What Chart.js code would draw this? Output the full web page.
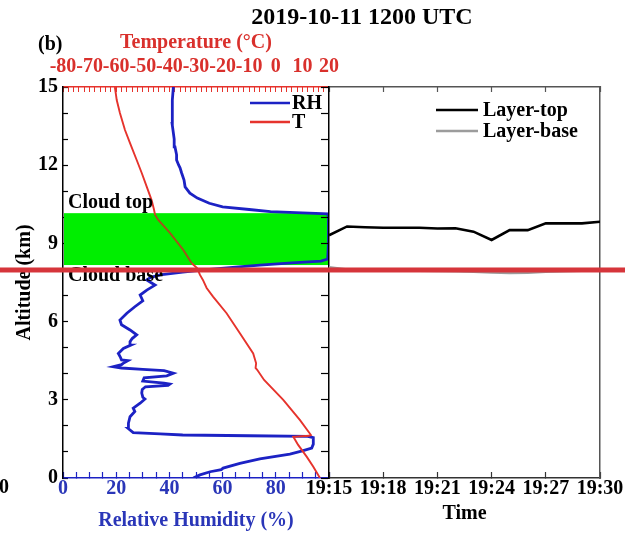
<!DOCTYPE html>
<html>
<head>
<meta charset="utf-8">
<script src="https://cdn.jsdelivr.net/npm/chart.js@4.4.0/dist/chart.umd.min.js"></script>
<style>
  html, body { margin: 0; padding: 0; background: #fff; }
  #wrap { position: relative; width: 629px; height: 536px; }
  #wrap canvas { position: absolute; left: 0; top: 0; }
</style>
</head>
<body>
<div id="wrap">
  <canvas id="profileChart" width="629" height="536"></canvas>
  <canvas id="layerChart" width="629" height="536"></canvas>
</div>
<script>
// sounding profile (altitude in km)
const rhAltitude = [0, 0.12, 0.24, 0.32, 0.38, 0.56, 0.73, 0.92, 1.04, 1.15, 1.3, 1.55, 1.6, 1.62, 1.65, 1.69, 1.74, 1.9, 2.1, 2.35, 2.55, 2.68, 2.87, 3.03, 3.1, 3.26, 3.4, 3.5, 3.55, 3.6, 3.64, 3.72, 3.84, 3.92, 4.02, 4.12, 4.17, 4.22, 4.27, 4.35, 4.4, 4.5, 4.53, 4.65, 4.78, 4.97, 5.1, 5.23, 5.35, 5.49, 5.68, 5.88, 6.06, 6.32, 6.57, 6.8, 7.02, 7.21, 7.4, 7.5, 7.6, 7.7, 7.79, 7.9, 8.0, 8.1, 8.17, 8.25, 8.32, 8.4, 9.0, 10.0, 10.13, 10.17, 10.22, 10.3, 10.4, 10.54, 10.74, 10.93, 11.17, 11.43, 11.7, 11.9, 12.0, 12.2, 12.4, 12.7, 13.0, 13.23, 13.6, 14.0, 14.5, 15.0];
const rhPercent = [49, 51.5, 55.3, 59.5, 60.2, 66.5, 74, 85.3, 90, 93.5, 94.1, 94.1, 92, 70, 45, 36.5, 26.4, 24.5, 24.6, 25.2, 27, 26.4, 29, 30.8, 30, 29.6, 29.8, 31, 39.5, 40.2, 38, 30, 30.5, 39, 41.5, 38, 30, 22, 18.9, 22, 22.6, 24.4, 22, 21.5, 20.8, 22.7, 25.5, 25.2, 26, 27.7, 25.2, 22, 21.4, 24, 27, 30, 29, 31.5, 34.6, 33, 31.5, 33, 36.5, 45, 55, 66, 74, 86, 97, 99.5, 99.8, 99.8, 99.5, 90, 78, 70, 60, 55, 50.5, 47.7, 45.9, 45.5, 44.6, 44, 43.5, 42.7, 42.7, 42.1, 41.8, 41.5, 41, 41, 41.2, 41.5];
const tAltitude = [0, 0.43, 0.82, 1.27, 1.58, 1.62, 1.65, 2.22, 3.0, 3.76, 4.15, 4.22, 4.4, 4.78, 5.55, 6.32, 6.96, 7.29, 7.6, 7.79, 8.05, 8.24, 8.75, 9.4, 9.9, 10.1, 10.3, 10.66, 11.17, 11.7, 12.2, 12.85, 13.35, 14.0, 14.5, 15.0];
const tCelsius = [16.6, 14.1, 11.6, 8.4, 6.6, 12.5, 13.2, 9.1, 2.8, -4.4, -7.0, -7.6, -7.4, -8.5, -13.5, -18.5, -23.6, -26, -27.4, -28.5, -29.6, -31.6, -34.8, -39.8, -44.2, -45.4, -45.8, -46.7, -48.5, -50.4, -52.3, -54.8, -56.7, -58.6, -59.8, -60.5];
const cloudTop = 10.16;
const cloudBase = 8.17;
const redLineAltitude = 7.98;

// retrieved layer over time (minutes after 19:15)
const layerMinutes = [0, 1, 2, 3, 4, 5, 6, 7, 8, 9, 10, 11, 12, 13, 14, 15];
const layerTop = [9.31, 9.65, 9.62, 9.6, 9.6, 9.6, 9.57, 9.58, 9.45, 9.13, 9.51, 9.51, 9.77, 9.77, 9.77, 9.83];
const layerBase = [8.08, 8.0, 7.97, 7.96, 7.95, 7.95, 7.94, 7.93, 7.91, 7.89, 7.87, 7.88, 7.91, 7.93, 7.95, 7.96];
const timeLabels = ['19:15', '19:18', '19:21', '19:24', '19:27', '19:30'];

const FONT = "'Liberation Serif', 'Times New Roman', serif";
const RH_COLOR = '#1c22c4';
const T_COLOR = '#e6332c';
const LABEL_BLUE = '#2a36b8';
const LABEL_RED = '#d9302c';
const GREEN = '#00ee00';
const f = (size) => ({ family: FONT, size: size, weight: 'bold' });

const zip = (xs, ys) => xs.map((x, i) => ({ x: x, y: ys[i] }));
const inCloud = (a) => a > cloudBase && a < cloudTop;

const cloudBand = {
  id: 'cloudBand',
  beforeDatasetsDraw(chart) {
    const { ctx, chartArea: a, scales: { y } } = chart;
    const y1 = y.getPixelForValue(cloudTop);
    const y2 = y.getPixelForValue(cloudBase);
    ctx.save();
    ctx.fillStyle = GREEN;
    ctx.fillRect(a.left + 1, y1, a.right - a.left - 1.5, y2 - y1);
    ctx.restore();
  }
};

const profileText = {
  id: 'profileText',
  afterDatasetsDraw(chart) {
    const { ctx, chartArea: a, scales: { y } } = chart;
    ctx.save();
    ctx.font = 'bold 20px ' + FONT;
    ctx.fillStyle = '#000';
    ctx.textAlign = 'left';
    ctx.textBaseline = 'alphabetic';
    ctx.fillText('Cloud top', a.left + 5, y.getPixelForValue(cloudTop) - 5);
    ctx.fillText('Cloud base', a.left + 5, y.getPixelForValue(cloudBase) + 16);

    // legend
    const items = chart.data.datasets.map(d => [d.label, d.borderColor]);
    items.forEach((it, i) => {
      const ly = a.top + 16 + i * 19;
      ctx.strokeStyle = it[1];
      ctx.lineWidth = 2.6;
      ctx.beginPath();
      ctx.moveTo(a.right - 79, ly);
      ctx.lineTo(a.right - 39, ly);
      ctx.stroke();
      ctx.textBaseline = 'middle';
      ctx.fillText(it[0], a.right - 37, ly + 1);
    });
  },
  afterDraw(chart) {
    const ctx = chart.ctx;
    ctx.save();
    ctx.fillStyle = '#000';
    ctx.textBaseline = 'middle';
    ctx.font = 'bold 24px ' + FONT;
    ctx.textAlign = 'center';
    ctx.fillText('2019-10-11 1200 UTC', 362, 18);
    ctx.font = 'bold 20px ' + FONT;
    ctx.textAlign = 'left';
    ctx.fillText('(b)', 38, 45);
    ctx.fillText('0', -1, 488);
    ctx.restore();
  }
};

new Chart(document.getElementById('profileChart'), {
  type: 'line',
  data: {
    datasets: [
      {
        label: 'RH', data: zip(rhPercent, rhAltitude), xAxisID: 'x', yAxisID: 'y',
        borderColor: RH_COLOR, borderWidth: 2.8, pointRadius: 0, tension: 0, order: 2
      },
      {
        label: 'T', data: zip(tCelsius, tAltitude), xAxisID: 'xT', yAxisID: 'y',
        borderColor: T_COLOR, borderWidth: 1.9, pointRadius: 0, tension: 0, order: 1,
        segment: {
          borderColor: ctx => (inCloud(ctx.p0.parsed.y) && inCloud(ctx.p1.parsed.y)) ? '#a2521c' : T_COLOR
        }
      }
    ]
  },
  options: {
    responsive: false,
    animation: false,
    events: [],
    layout: { padding: { left: 0, top: 0, right: 300, bottom: 0 } },
    plugins: { legend: { display: false }, tooltip: { enabled: false } },
    scales: {
      x: {
        type: 'linear', position: 'bottom', min: 0, max: 100,
        afterFit: s => { s.height = 58; },
        ticks: {
          stepSize: 5, maxTicksLimit: 50, autoSkip: false, maxRotation: 0, padding: 5,
          color: LABEL_BLUE, font: f(20),
          callback: v => (v % 20 === 0 && v < 100) ? String(v) : ''
        },
        grid: { drawOnChartArea: false, tickLength: -6, color: RH_COLOR, tickColor: RH_COLOR, tickWidth: 1.2 },
        border: { color: RH_COLOR, width: 1.5 },
        title: { display: true, text: 'Relative Humidity (%)', color: LABEL_BLUE, font: f(20), padding: { top: 0, bottom: 3 } }
      },
      xT: {
        type: 'linear', position: 'top', min: -80, max: 20,
        afterFit: s => { s.height = 87; },
        ticks: {
          stepSize: 2, maxTicksLimit: 60, autoSkip: false, maxRotation: 0, padding: 13,
          color: LABEL_RED, font: f(20),
          callback: v => (v % 10 === 0) ? String(v) : ''
        },
        grid: { drawOnChartArea: false, tickLength: -5, color: T_COLOR, tickColor: T_COLOR, tickWidth: 1 },
        border: { color: T_COLOR, width: 1.5 },
        title: { display: true, text: 'Temperature (\u00B0C)', color: LABEL_RED, font: f(20), padding: { top: 31, bottom: 0 } }
      },
      y: {
        type: 'linear', position: 'left', min: 0, max: 15,
        afterFit: s => { s.width = 63; },
        ticks: {
          stepSize: 1, maxTicksLimit: 50, autoSkip: false, padding: 10,
          color: '#000', font: f(20),
          callback: v => (v % 3 === 0) ? String(v) : ''
        },
        grid: { drawOnChartArea: false, tickLength: -5, color: '#000', tickColor: '#000', tickWidth: 1.2 },
        border: { color: '#000', width: 1.5 },
        title: { display: true, text: 'Altitude (km)', color: '#000', font: f(20), padding: { top: 13, bottom: 0 } }
      }
    }
  },
  plugins: [cloudBand, profileText]
});

const layerText = {
  id: 'layerText',
  afterDatasetsDraw(chart) {
    const { ctx, chartArea: a } = chart;
    ctx.save();
    ctx.font = 'bold 20px ' + FONT;
    ctx.textAlign = 'left';
    ctx.textBaseline = 'middle';
    chart.data.datasets.forEach((d, i) => {
      const ly = a.top + 23 + i * 21;
      ctx.strokeStyle = d.borderColor;
      ctx.lineWidth = 2.6;
      ctx.beginPath();
      ctx.moveTo(a.left + 107, ly);
      ctx.lineTo(a.left + 149, ly);
      ctx.stroke();
      ctx.fillStyle = '#000';
      ctx.fillText(d.label, a.left + 154, ly + 1);
    });
    ctx.restore();
  },
  afterDraw(chart) {
    // red reference line across the whole figure
    const { ctx, scales: { y } } = chart;
    const py = y.getPixelForValue(redLineAltitude);
    ctx.save();
    ctx.fillStyle = '#d6353b';
    ctx.fillRect(0, py - 2.5, chart.width - 4, 5);
    ctx.restore();
  }
};

new Chart(document.getElementById('layerChart'), {
  type: 'line',
  data: {
    datasets: [
      {
        label: 'Layer-top', data: zip(layerMinutes, layerTop),
        borderColor: '#000', borderWidth: 2.6, pointRadius: 0, tension: 0, order: 1
      },
      {
        label: 'Layer-base', data: zip(layerMinutes, layerBase),
        borderColor: '#9c9c9c', borderWidth: 2.6, pointRadius: 0, tension: 0, order: 2
      }
    ]
  },
  options: {
    responsive: false,
    animation: false,
    events: [],
    layout: { padding: { left: 0, top: 0, right: 29, bottom: 0 } },
    plugins: { legend: { display: false }, tooltip: { enabled: false } },
    scales: {
      x: {
        type: 'linear', position: 'bottom', min: 0, max: 15,
        afterFit: s => { s.height = 58; },
        ticks: {
          stepSize: 3, autoSkip: false, maxRotation: 0, padding: 5,
          color: '#000', font: f(20),
          callback: v => timeLabels[v / 3]
        },
        grid: { drawOnChartArea: false, tickLength: -6, color: '#333', tickColor: '#333', tickWidth: 1.2 },
        border: { color: '#333', width: 1.5 },
        title: { display: true, text: 'Time', color: '#000', font: f(20), padding: { top: 0, bottom: 10 } }
      },
      xTop: {
        type: 'linear', position: 'top', min: 0, max: 15,
        afterFit: s => { s.height = 87; },
        ticks: { stepSize: 3, display: false },
        grid: { drawOnChartArea: false, tickLength: -5, color: '#555', tickColor: '#555', tickWidth: 1.2 },
        border: { color: '#555', width: 1.5 }
      },
      y: {
        type: 'linear', position: 'left', min: 0, max: 15,
        afterFit: s => { s.width = 329; },
        ticks: { stepSize: 1, maxTicksLimit: 50, display: false },
        grid: { drawOnChartArea: false, tickLength: 8, color: '#000', tickColor: '#000', tickWidth: 1.2 },
        border: { color: '#000', width: 1.5 }
      },
      yRight: {
        type: 'linear', position: 'right', min: 0, max: 15,
        afterFit: s => { s.width = 0; },
        ticks: { display: false },
        grid: { display: false, drawTicks: false },
        border: { color: '#555', width: 1.5 }
      }
    }
  },
  plugins: [layerText]
});
</script>
</body>
</html>
